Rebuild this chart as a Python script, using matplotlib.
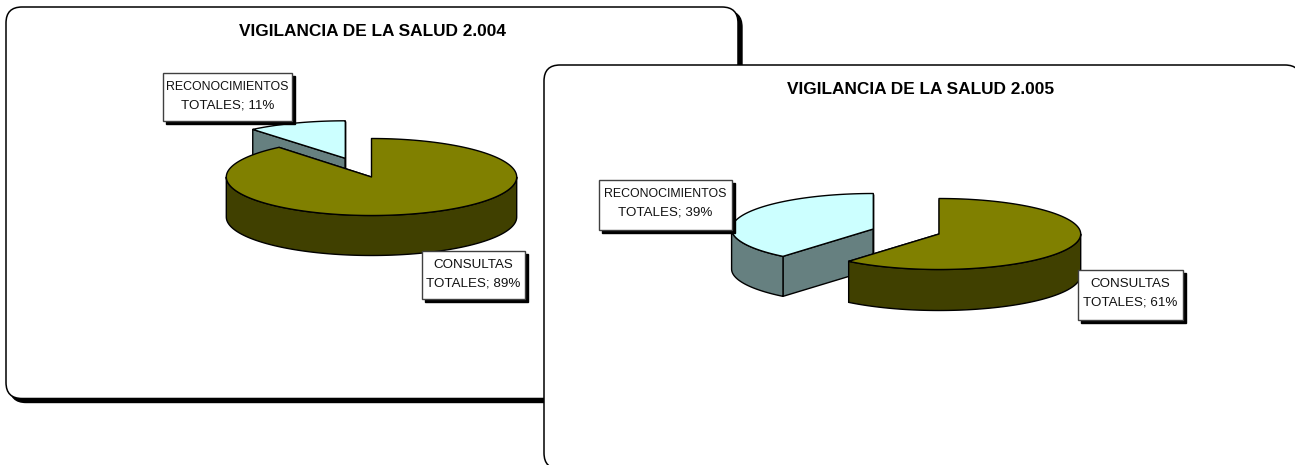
import numpy as np
import matplotlib
matplotlib.use("Agg")
import matplotlib.pyplot as plt
from matplotlib.patches import FancyBboxPatch, Polygon, Rectangle

# --- data ---
titles = ["VIGILANCIA DE LA SALUD 2.004", "VIGILANCIA DE LA SALUD 2.005"]
categories = ["CONSULTAS\nTOTALES", "RECONOCIMIENTOS\nTOTALES"]
shares_2004 = [89, 11]
shares_2005 = [61, 39]

plt.rcParams['font.family'] = ['Liberation Sans', 'DejaVu Sans']
W, H = 1295, 465
fig = plt.figure(figsize=(W / 100, H / 100), dpi=100)
ax = fig.add_axes([0, 0, 1, 1])
ax.set_xlim(0, W)
ax.set_ylim(H, 0)
ax.axis('off')

OLIVE, OLIVE_D = '#808000', '#404000'
CYAN, CYAN_D = '#CCFFFF', '#668080'
LW = 1.0


def panel(x0, y0, x1, y1, z, title, tx, ty, shadow=True):
    r = 16
    if shadow:
        ax.add_patch(FancyBboxPatch((x0 + 4, y0 + 4), x1 - x0, y1 - y0,
                                    boxstyle=f"round,pad=0,rounding_size={r}",
                                    fc='black', ec='black', lw=LW, zorder=z))
    ax.add_patch(FancyBboxPatch((x0, y0), x1 - x0, y1 - y0,
                                boxstyle=f"round,pad=0,rounding_size={r}",
                                fc='white', ec='black', lw=1.1, zorder=z + .1))
    ax.text(tx, ty, title, ha='center', va='center', fontsize=12.4,
            fontweight='bold', color='black', zorder=z + .2)


def slice3d(cx, cy, a, b, depth, start, end, top, side, z):
    """start/end: clockwise degrees from 12 o'clock."""
    def pt(t):
        t = np.radians(t)
        return np.column_stack([cx + a * np.sin(t), cy - b * np.cos(t)])
    for t in (start, end):
        p = pt(np.array([t]))[0]
        ax.add_patch(Polygon([(cx, cy), p, (p[0], p[1] + depth), (cx, cy + depth)],
                             fc=side, ec='black', lw=LW, zorder=z))
    lo, hi = max(start, 90), min(end, 270)
    if hi > lo:
        arc = pt(np.linspace(lo, hi, 120))
        low = arc + [0, depth]
        ax.add_patch(Polygon(np.vstack([arc, low[::-1]]), fc=side, ec='black',
                             lw=LW, zorder=z + .01, joinstyle='round'))
    arc = pt(np.linspace(start, end, 240))
    ax.add_patch(Polygon(np.vstack([[(cx, cy)], arc]), fc=top, ec='black',
                         lw=LW, zorder=z + .02, joinstyle='round'))


def label(x0, y0, x1, y1, line1, line2, z):
    ax.add_patch(Rectangle((x0 + 3, y0 + 3), x1 - x0, y1 - y0, fc='black', ec='black', lw=LW, zorder=z))
    ax.add_patch(Rectangle((x0, y0), x1 - x0, y1 - y0, fc='white', ec='#404040', lw=LW, zorder=z + .1))
    xm = (x0 + x1) / 2
    size1 = 8.9 if len(line1) > 10 else 9.6
    ax.text(xm, y0 + 14, line1, ha='center', va='center', fontsize=size1, color='#111111', zorder=z + .2)
    ax.text(xm, y0 + 32.5, line2, ha='center', va='center', fontsize=9.6, color='#111111', zorder=z + .2)


def lab_text(i, shares):
    a, b = categories[i].split("\n")
    return a, f"{b}; {shares[i]}%"


# ---- 2004 ----
panel(6, 7, 738, 398.5, 1, titles[0], 372.7, 31)
s0 = shares_2004[0] / sum(shares_2004) * 360
slice3d(345.3, 158.3, 145.2, 37.5, 40, s0, 360, CYAN, CYAN_D, 2)
slice3d(371.5, 177, 145.2, 38.5, 40, 0, s0, OLIVE, OLIVE_D, 3)
label(163, 73, 292, 121.5, *lab_text(1, shares_2004), 4)
label(422, 251, 525, 299, *lab_text(0, shares_2004), 4)

# ---- 2005 ----
panel(544, 65, 1301, 469, 10, titles[1], 921, 89, shadow=False)
s1 = shares_2005[0] / sum(shares_2005) * 360
slice3d(873.3, 229, 141.7, 35.5, 40, s1, 360, CYAN, CYAN_D, 11)
slice3d(939, 234, 141.7, 35.5, 41, 0, s1, OLIVE, OLIVE_D, 12)
label(598.5, 180, 731.5, 230, *lab_text(1, shares_2005), 13)
label(1077.5, 270, 1183, 320, *lab_text(0, shares_2005), 13)

fig.savefig("out.png", dpi=100)
